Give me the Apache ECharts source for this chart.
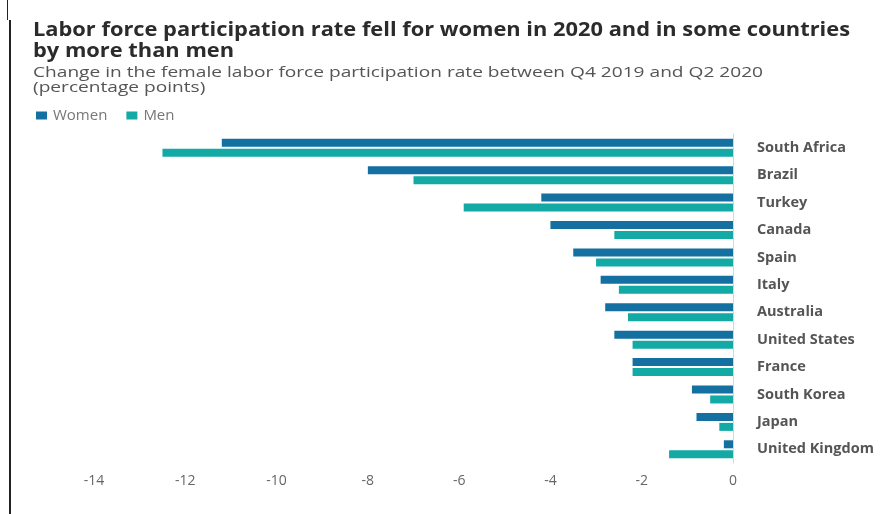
<!DOCTYPE html>
<html>
<head>
<meta charset="utf-8">
<script src="https://cdn.jsdelivr.net/npm/echarts@6/dist/echarts.min.js"></script>
<style>
  html, body { margin: 0; padding: 0; background: #ffffff; }
  #chart { width: 884px; height: 514px; }
</style>
</head>
<body>
<div id="chart"></div>
<script>
// Change in labor force participation rate, Q4 2019 to Q2 2020 (percentage points)
const countries = [
  'South Africa', 'Brazil', 'Turkey', 'Canada', 'Spain', 'Italy',
  'Australia', 'United States', 'France', 'South Korea', 'Japan', 'United Kingdom'
];
const women = [-11.2, -8.0, -4.2, -4.0, -3.5, -2.9, -2.8, -2.6, -2.2, -0.9, -0.8, -0.2];
const men   = [-12.5, -7.0, -5.9, -2.6, -3.0, -2.5, -2.3, -2.2, -2.2, -0.5, -0.3, -1.4];
const xTicks = { min: -14, max: 0, step: 2 };

const titleLines = [
  'Labor force participation rate fell for women in 2020 and in some countries',
  'by more than men'
];
const subtitleLines = [
  'Change in the female labor force participation rate between Q4 2019 and Q2 2020',
  '(percentage points)'
];

const bodyFont = '"Open Sans", "Noto Sans", sans-serif';
const titleFontCss = 'bold 20px "Open Sans", sans-serif';
const subFontCss = '14.5px "Open Sans", sans-serif';

// Heading text is set a little wide; stretch it horizontally to its line width.
function textWidth(text, font) {
  const ctx = document.createElement('canvas').getContext('2d');
  ctx.font = font;
  return ctx.measureText(text).width;
}
const titleScale = 817 / textWidth(titleLines[0], titleFontCss);
const subScale = 730 / textWidth(subtitleLines[0], subFontCss);

function headingText(text, font, color, x, y, scale) {
  return {
    type: 'text',
    x: x,
    y: y,
    scaleX: scale,
    silent: true,
    style: { text: text, font: font, fill: color, align: 'left', verticalAlign: 'middle' }
  };
}

const chart = echarts.init(document.getElementById('chart'), null, { renderer: 'canvas' });

chart.setOption({
  backgroundColor: '#ffffff',
  animation: false,
  legend: {
    left: 31,
    top: 103,
    icon: 'rect',
    itemWidth: 11,
    itemHeight: 8,
    itemGap: 19,
    textStyle: { fontFamily: bodyFont, fontSize: 15, color: '#777777', padding: [0, 0, 0, 1] },
    data: ['Women', 'Men']
  },
  grid: {
    left: 94,
    right: 151,
    top: 134,
    bottom: 51,
    containLabel: false
  },
  xAxis: {
    type: 'value',
    min: xTicks.min,
    max: xTicks.max,
    interval: xTicks.step,
    axisLine: { show: false },
    axisTick: { show: false },
    splitLine: { show: false },
    axisLabel: {
      fontFamily: bodyFont,
      fontSize: 14,
      color: '#666666',
      margin: 11
    }
  },
  yAxis: {
    type: 'category',
    data: countries,
    inverse: true,
    position: 'right',
    axisLine: { show: true, lineStyle: { color: '#d6d6d6', width: 1 } },
    axisTick: { show: false },
    axisLabel: {
      align: 'left',
      margin: 24,
      fontFamily: bodyFont,
      fontWeight: 'bold',
      fontSize: 14.5,
      color: '#555555'
    }
  },
  series: [
    {
      name: 'Women',
      type: 'bar',
      data: women,
      barWidth: 8,
      barGap: '25%',
      itemStyle: { color: '#1470a0' }
    },
    {
      name: 'Men',
      type: 'bar',
      data: men,
      barWidth: 8,
      itemStyle: { color: '#13a9a4' }
    }
  ],
  graphic: [
    headingText(titleLines[0], titleFontCss, '#2b2b2b', 33, 30, titleScale),
    headingText(titleLines[1], titleFontCss, '#2b2b2b', 33, 51, titleScale),
    headingText(subtitleLines[0], subFontCss, '#555555', 33, 73, subScale),
    headingText(subtitleLines[1], subFontCss, '#555555', 33, 88, subScale),
    // page frame edge on the left
    { type: 'rect', x: 7, y: 0, shape: { width: 1, height: 20 }, style: { fill: '#222222' } },
    { type: 'rect', x: 9, y: 20, shape: { width: 2, height: 494 }, style: { fill: '#222222' } }
  ]
});
</script>
</body>
</html>
